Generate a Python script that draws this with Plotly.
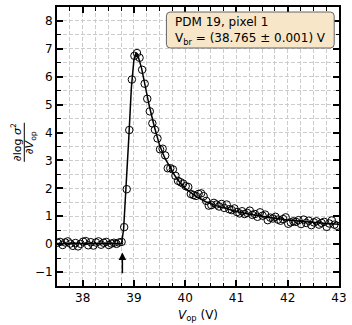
import plotly.graph_objects as go

# measured points
v_op = [37.51, 37.56, 37.61, 37.66, 37.71, 37.76, 37.81, 37.86, 37.91, 37.96,
        38.01, 38.06, 38.11, 38.16, 38.21, 38.26, 38.31, 38.36, 38.41, 38.46,
        38.51, 38.56, 38.61, 38.66, 38.71, 38.76, 38.81, 38.86, 38.91, 38.96,
        39.01, 39.06, 39.11, 39.16, 39.21, 39.26, 39.31, 39.36, 39.41, 39.46,
        39.51, 39.56, 39.61, 39.66, 39.71, 39.76, 39.81, 39.86, 39.91, 39.96,
        40.01, 40.06, 40.11, 40.16, 40.21, 40.26, 40.31, 40.36, 40.41, 40.46,
        40.51, 40.56, 40.61, 40.66, 40.71, 40.76, 40.81, 40.86, 40.91, 40.96,
        41.01, 41.06, 41.11, 41.16, 41.21, 41.26, 41.31, 41.36, 41.41, 41.46,
        41.51, 41.56, 41.61, 41.66, 41.71, 41.76, 41.81, 41.86, 41.91, 41.96,
        42.01, 42.06, 42.11, 42.16, 42.21, 42.26, 42.31, 42.36, 42.41, 42.46,
        42.51, 42.56, 42.61, 42.66, 42.71, 42.76, 42.81, 42.86, 42.91, 42.96]
dlog = [0.05, 0.08, -0.03, 0.06, 0.10, 0.02, -0.06, 0.04, -0.08, 0.01,
        0.09, 0.11, -0.04, 0.07, -0.05, 0.06, 0.10, -0.02, 0.05, 0.08,
        -0.03, 0.02, 0.05, 0.01, 0.06, 0.08, 0.61, 1.97, 4.09, 5.90,
        6.75, 6.85, 6.68, 6.25, 5.75, 5.21, 4.76, 4.33, 4.10, 3.79,
        3.40, 3.42, 3.18, 2.72, 2.72, 2.68, 2.45, 2.27, 2.22, 2.17,
        2.08, 2.05, 1.80, 1.76, 1.73, 1.80, 1.82, 1.72, 1.55, 1.38,
        1.40, 1.48, 1.42, 1.35, 1.44, 1.30, 1.42, 1.25, 1.22, 1.28,
        1.15, 1.10, 1.18, 1.08, 1.12, 1.20, 1.05, 1.08, 0.98, 1.14,
        1.02, 1.06, 0.86, 0.95, 0.92, 0.98, 0.88, 0.84, 0.90, 0.96,
        0.73, 0.78, 0.82, 0.80, 0.86, 0.72, 0.88, 0.76, 0.84, 0.68,
        0.78, 0.82, 0.70, 0.76, 0.80, 0.62, 0.74, 0.85, 0.70, 0.66]

# fit curve
fit_v = [37.5, 38.76, 38.80, 38.85, 38.90, 38.95, 39.0, 39.04, 39.08, 39.15,
         39.2, 39.3, 39.4, 39.5, 39.6, 39.7, 39.8, 39.9, 40.0, 40.2, 40.4,
         40.6, 40.8, 41.0, 41.25, 41.5, 41.75, 42.0, 42.25, 42.5, 42.75, 43.0]
fit_y = [0.02, 0.02, 0.55, 2.0, 3.8, 5.6, 6.6, 6.85, 6.75, 6.3,
         5.85, 4.95, 4.2, 3.55, 3.1, 2.75, 2.45, 2.2, 2.0, 1.72, 1.52,
         1.38, 1.27, 1.17, 1.07, 0.99, 0.93, 0.87, 0.82, 0.78, 0.74, 0.71]

v_br = 38.775
x_ticks = [38, 39, 40, 41, 42, 43]
y_ticks = [-1, 0, 1, 2, 3, 4, 5, 6, 7, 8]

FONT = "DejaVu Sans"
GRID = "#cccccc"
DASH = "4px,2px"

fig = go.Figure()
fig.add_trace(go.Scatter(x=fit_v, y=fit_y, mode="lines",
                         line=dict(color="black", width=1.5), showlegend=False))
fig.add_trace(go.Scatter(x=v_op, y=dlog, mode="markers",
                         marker=dict(symbol="circle-open", size=7.5,
                                     color="black", line=dict(width=1)),
                         showlegend=False))

axis_common = dict(
    showline=True, linewidth=2, linecolor="black", mirror="allticks",
    ticks="inside", ticklen=6, tickwidth=1.5, tickcolor="black",
    showgrid=True, gridcolor=GRID, griddash=DASH, gridwidth=1,
    zeroline=False, tickfont=dict(family=FONT, size=12, color="black"),
)

fig.update_xaxes(**axis_common, range=[37.5, 43], tickvals=x_ticks,
                 minor=dict(dtick=0.25, tick0=37.5, ticks="inside", ticklen=3.5,
                            tickcolor="black", tickwidth=1, showgrid=True,
                            gridcolor=GRID, griddash=DASH),
                 title=dict(text="<i>V</i><sub>op</sub> (V)",
                            font=dict(family=FONT, size=12, color="black"),
                            standoff=6))
fig.update_yaxes(**axis_common, range=[-1.5, 8.5], tickvals=y_ticks,
                 minor=dict(dtick=0.5, tick0=-1.5, ticks="inside", ticklen=3.5,
                            tickcolor="black", tickwidth=1, showgrid=True,
                            gridcolor=GRID, griddash=DASH))

# y-axis fraction label
fig.add_annotation(xref="paper", yref="paper", x=-0.143, y=0.515,
                   text="∂log <i>σ</i><sup>2</sup>", textangle=-90, showarrow=False,
                   font=dict(family=FONT, size=11, color="black"),
                   xanchor="center", yanchor="middle")
fig.add_annotation(xref="paper", yref="paper", x=-0.093, y=0.515,
                   text="∂<i>V</i><sub>op</sub>", textangle=-90, showarrow=False,
                   font=dict(family=FONT, size=11, color="black"),
                   xanchor="center", yanchor="middle")
fig.add_shape(type="line", xref="paper", yref="paper", x0=-0.116, x1=-0.116,
              y0=0.445, y1=0.585, line=dict(color="black", width=1))

# arrow at breakdown voltage
fig.add_annotation(x=v_br, y=-0.3, ax=v_br, ay=-1.1, xref="x", yref="y",
                   axref="x", ayref="y", text="", showarrow=True,
                   arrowhead=2, arrowsize=1, arrowwidth=1.5, arrowcolor="black")

# legend box (rounded)
x0, x1, y0, y1 = 0.388, 0.983, 0.853, 0.982
rx, ry = 0.014, 0.014
path = (f"M {x0+rx},{y0} L {x1-rx},{y0} Q {x1},{y0} {x1},{y0+ry} "
        f"L {x1},{y1-ry} Q {x1},{y1} {x1-rx},{y1} L {x0+rx},{y1} "
        f"Q {x0},{y1} {x0},{y1-ry} L {x0},{y0+ry} Q {x0},{y0} {x0+rx},{y0} Z")
fig.add_shape(type="path", path=path, xref="paper", yref="paper",
              fillcolor="#f8e6c8", line=dict(color="#666666", width=1), layer="above")
fig.add_annotation(xref="paper", yref="paper", x=0.41, y=0.947, text="PDM 19, pixel 1",
                   showarrow=False, xanchor="left", yanchor="middle",
                   font=dict(family=FONT, size=12, color="black"))
fig.add_annotation(xref="paper", yref="paper", x=0.41, y=0.887,
                   text="V<sub>br</sub> = (38.765 ± 0.001) V",
                   showarrow=False, xanchor="left", yanchor="middle",
                   font=dict(family=FONT, size=12, color="black"))

fig.update_layout(width=352, height=325,
                  margin=dict(l=57, r=9, t=5, b=35),
                  plot_bgcolor="white", paper_bgcolor="white",
                  font=dict(family=FONT, size=12, color="black"))

fig.write_html("out.html", config={"displayModeBar": False},
               post_script="document.body.style.margin='0';document.body.style.overflow='hidden';")
